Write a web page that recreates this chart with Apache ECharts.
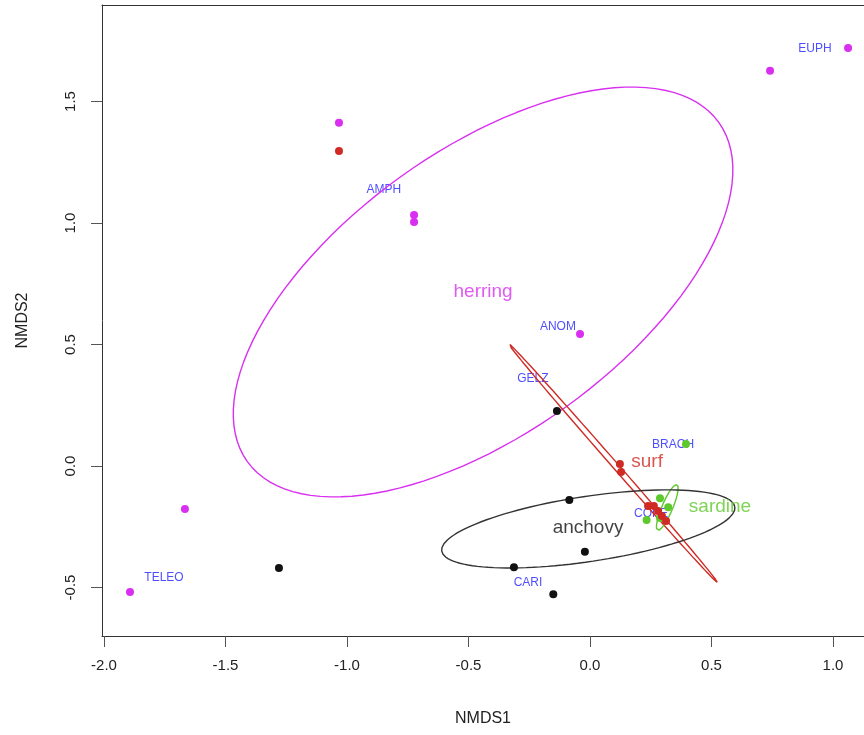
<!DOCTYPE html>
<html>
<head>
<meta charset="utf-8">
<script src="https://cdn.jsdelivr.net/npm/echarts@6/dist/echarts.min.js"></script>
<style>
  html, body { margin: 0; padding: 0; background: #fff; }
  #chart { width: 864px; height: 735px; }
</style>
</head>
<body>
<div id="chart"></div>
<script>
// sample scores, one array per fish group: [NMDS1, NMDS2]
const herringPts = [[1.062, 1.720], [0.741, 1.626], [-1.033, 1.412], [-0.724, 1.033], [-0.724, 1.004],
  [-0.041, 0.543], [-1.667, -0.177], [-1.893, -0.519]];
const surfPts = [[-1.033, 1.296], [0.123, 0.008], [0.128, -0.025], [0.239, -0.165], [0.263, -0.165],
  [0.280, -0.185], [0.296, -0.206], [0.313, -0.226]];
const sardinePts = [[0.395, 0.091], [0.288, -0.133], [0.233, -0.222], [0.322, -0.170], [0.288, -0.214]];
const anchovyPts = [[-1.280, -0.420], [-0.136, 0.226], [-0.085, -0.140], [-0.021, -0.353],
  [-0.313, -0.417], [-0.151, -0.528]];

// prey category labels
const preyNames = ['AMPH', 'EUPH', 'ANOM', 'GELZ', 'BRACH', 'COPE', 'CARI', 'TELEO'];
const preyX = [-0.848, 0.926, -0.132, -0.235, 0.342, 0.251, -0.255, -1.753];
const preyY = [1.136, 1.716, 0.572, 0.358, 0.086, -0.198, -0.481, -0.461];

// group labels
const groupNames = ['herring', 'surf', 'sardine', 'anchovy'];
const groupX = [-0.440, 0.235, 0.535, -0.008];
const groupY = [0.716, 0.016, -0.169, -0.255];

// ellipses: [centreX, centreY, semi-major, semi-minor, angle deg]
const herringEll = [-0.440, 0.716, 1.195, 0.583, 35.74];
const surfEll = [0.094, 0.013, 0.653, 0.012, -48.83];
const sardineEll = [0.318, -0.171, 0.102, 0.022, 67];
const anchovyEll = [-0.007, -0.259, 0.610, 0.134, 8.56];

const xTicks = [-2.0, -1.5, -1.0, -0.5, 0.0, 0.5, 1.0];
const yTicks = [-0.5, 0.0, 0.5, 1.0, 1.5];

const colHerring = '#d92ff0';
const colSurf = '#cf2b24';
const colSardine = '#5ec92c';
const colAnchovy = '#111111';
const colPrey = '#2222ff';

function ellipse(e) {
  const [cx, cy, a, b, ang] = e;
  const t = ang * Math.PI / 180;
  const out = [];
  for (let i = 0; i <= 120; i++) {
    const s = i / 120 * 2 * Math.PI;
    const u = a * Math.cos(s), v = b * Math.sin(s);
    out.push([cx + u * Math.cos(t) - v * Math.sin(t), cy + u * Math.sin(t) + v * Math.cos(t)]);
  }
  return out;
}

function ellSeries(e, color) {
  return {
    type: 'line', data: ellipse(e), showSymbol: false, silent: true,
    lineStyle: { color: color, width: 1.4 }, z: 3
  };
}

function ptSeries(pts, color) {
  return { type: 'scatter', data: pts, symbolSize: 8, itemStyle: { color: color, opacity: 1 }, z: 4 };
}

function textSeries(names, xs, ys, colors, size, z) {
  return {
    type: 'scatter', symbolSize: 1, z: z, silent: true,
    itemStyle: { color: 'rgba(0,0,0,0)' },
    data: names.map((n, i) => ({
      value: [xs[i], ys[i]], name: n,
      label: { color: Array.isArray(colors) ? colors[i] : colors }
    })),
    label: {
      show: true, position: 'inside', formatter: p => p.name,
      fontFamily: 'Liberation Sans', fontSize: size
    }
  };
}

const chart = echarts.init(document.getElementById('chart'));
const fontFam = 'Liberation Sans';
const boxLine = { show: true, onZero: false, lineStyle: { color: '#333', width: 1 } };

chart.setOption({
  animation: false,
  backgroundColor: '#fff',
  // plot box runs past the right edge of the picture
  grid: { left: 102, top: 5, right: 0, height: 631 },
  xAxis: [{
    type: 'value', min: -2.0082, max: 1.1276,
    name: 'NMDS1', nameLocation: 'middle', nameGap: 75,
    nameTextStyle: { fontFamily: fontFam, fontSize: 16, color: '#222' },
    splitLine: { show: false },
    axisLine: boxLine,
    axisTick: { show: true, length: 11, customValues: xTicks, lineStyle: { color: '#555' } },
    axisLabel: {
      customValues: xTicks, margin: 22, fontFamily: fontFam, fontSize: 15, color: '#222',
      formatter: v => v.toFixed(1)
    }
  }, {
    type: 'value', position: 'top', min: -2.0082, max: 1.1276,
    axisLine: boxLine, axisTick: { show: false }, axisLabel: { show: false }, splitLine: { show: false }
  }],
  yAxis: {
    type: 'value', min: -0.6996, max: 1.897,
    name: 'NMDS2', nameLocation: 'middle', nameGap: 71,
    nameTextStyle: { fontFamily: fontFam, fontSize: 16, color: '#222' },
    splitLine: { show: false },
    axisLine: boxLine,
    axisTick: { show: true, length: 11, customValues: yTicks, lineStyle: { color: '#555' } },
    axisLabel: {
      customValues: yTicks, margin: 24, rotate: 90, fontFamily: fontFam, fontSize: 15, color: '#222',
      formatter: v => v.toFixed(1)
    }
  },
  series: [
    textSeries(preyNames, preyX, preyY, colPrey, 12, 2),
    ellSeries(herringEll, colHerring),
    ellSeries(surfEll, colSurf),
    ellSeries(sardineEll, colSardine),
    ellSeries(anchovyEll, '#333'),
    ptSeries(herringPts, colHerring),
    ptSeries(anchovyPts, colAnchovy),
    ptSeries(sardinePts, colSardine),
    ptSeries(surfPts, colSurf),
    textSeries(groupNames, groupX, groupY, [colHerring, colSurf, colSardine, colAnchovy], 19, 6)
  ]
});
</script>
</body>
</html>
